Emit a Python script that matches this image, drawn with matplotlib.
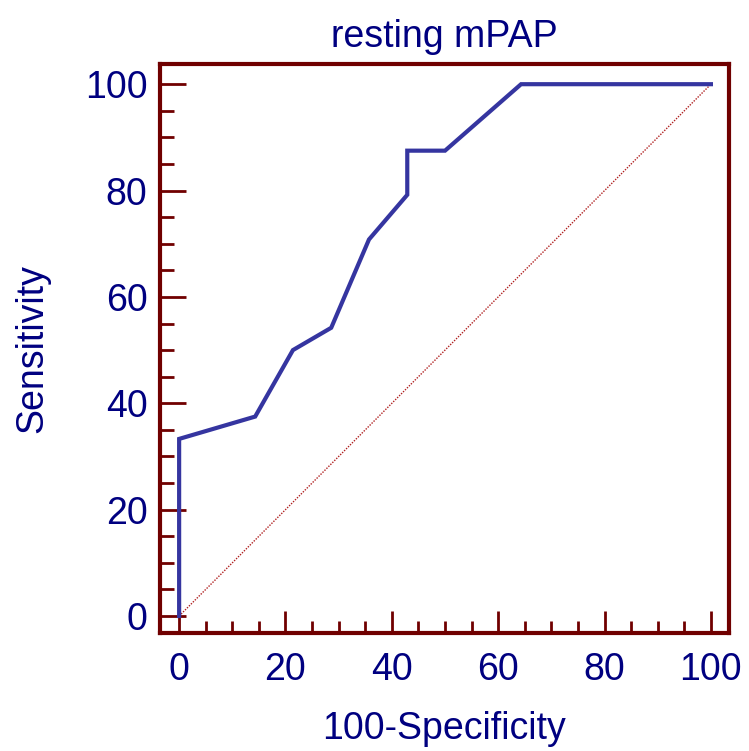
"""ROC curve for resting mPAP."""
import matplotlib
matplotlib.use("Agg")
import matplotlib.pyplot as plt
from matplotlib.ticker import MultipleLocator

plt.rcParams["font.family"] = ["Liberation Sans", "DejaVu Sans"]

# ROC points (100-specificity, sensitivity)
fpr = [0, 0, 14.3, 21.4, 28.6, 35.7, 42.9, 42.9, 50.0, 64.3, 100]
tpr = [0, 33.3, 37.5, 50.0, 54.2, 70.8, 79.2, 87.5, 87.5, 100, 100]
ref = [0, 100]

NAVY = "#000080"
FRAME = "#700000"
CURVE = "#3535a0"

fig = plt.figure(figsize=(7.49, 7.51), dpi=100)
ax = fig.add_axes([0.2136, 0.1571, 0.7597, 0.7577])

ax.plot(ref, ref, color="#b02020", lw=1.0, ls=(0, (1, 1)))
ax.plot(fpr, tpr, color=CURVE, lw=3.0, solid_joinstyle="miter")

ax.set_xlim(-3.6, 103.4)
ax.set_ylim(-3.2, 103.8)

for sp in ax.spines.values():
    sp.set_color(FRAME)
    sp.set_linewidth(3)

ax.xaxis.set_major_locator(MultipleLocator(20))
ax.xaxis.set_minor_locator(MultipleLocator(5))
ax.yaxis.set_major_locator(MultipleLocator(20))
ax.yaxis.set_minor_locator(MultipleLocator(5))
ax.tick_params(which="both", direction="in", color=FRAME, width=2,
               top=False, right=False)
ax.tick_params(axis="y", which="major", length=19, pad=9)
ax.tick_params(axis="y", which="minor", length=10)
ax.tick_params(axis="x", which="major", length=16, pad=14)
ax.tick_params(axis="x", which="minor", length=9)
ax.tick_params(which="major", labelsize=27, labelcolor=NAVY)

ax.set_title("resting mPAP", fontsize=27, color=NAVY, pad=12)
ax.set_xlabel("100-Specificity", fontsize=27, color=NAVY, labelpad=16)
ax.set_ylabel("Sensitivity", fontsize=27, color=NAVY, labelpad=25)

fig.savefig("out.png", dpi=100)
